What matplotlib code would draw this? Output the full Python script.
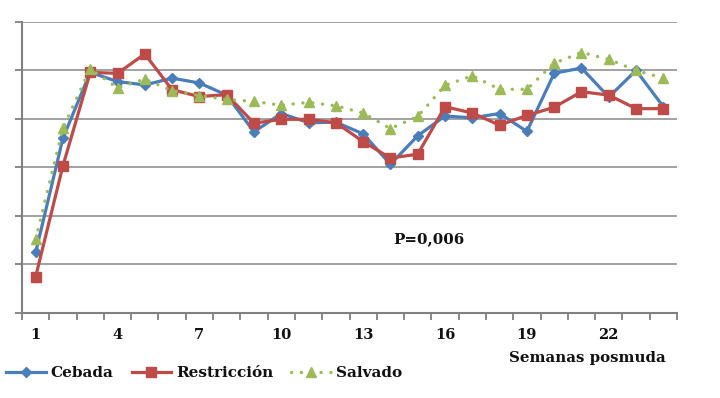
import matplotlib
matplotlib.use("Agg")
import matplotlib.pyplot as plt
from matplotlib.ticker import FixedLocator, NullFormatter

weeks = list(range(1, 25))
cebada = [1.24, 3.60, 4.96, 4.77, 4.70, 4.84, 4.74, 4.49, 3.73, 4.11, 3.92, 3.93,
          3.69, 3.06, 3.65, 4.06, 4.02, 4.11, 3.74, 4.94, 5.05, 4.45, 5.00, 4.25]
restriccion = [0.74, 3.03, 4.96, 4.94, 5.34, 4.60, 4.46, 4.50, 3.91, 3.99, 3.99, 3.92,
               3.53, 3.19, 3.27, 4.25, 4.12, 3.87, 4.07, 4.24, 4.56, 4.49, 4.21, 4.21]
salvado = [1.51, 3.81, 5.03, 4.64, 4.82, 4.58, 4.48, 4.40, 4.36, 4.28, 4.34, 4.27,
           4.12, 3.80, 4.05, 4.69, 4.89, 4.61, 4.61, 5.15, 5.37, 5.23, 5.00, 4.84]
labeled_weeks = [1, 4, 7, 10, 13, 16, 19, 22]
series_names = ["Cebada", "Restricción", "Salvado"]

plt.rcParams['font.family'] = ['DejaVu Serif']
plt.rcParams['font.weight'] = 'bold'

fig = plt.figure(figsize=(7.2, 3.98), dpi=100)
ax = fig.add_axes([22/720, (398-312.5)/398, (677-22)/720, (312.5-22)/398])

blue = '#4A7EBB'
red = '#BE4B48'
green = '#9BBB59'

ax.plot(weeks, cebada, color=blue, lw=2.3, marker='D', ms=5.5, mec=blue, mfc=blue,
        label=series_names[0], zorder=3)
ax.plot(weeks, restriccion, color=red, lw=2.3, marker='s', ms=7, mec=red, mfc=red,
        label=series_names[1], zorder=4)
ax.plot(weeks, salvado, color=green, lw=2.4, marker='^', ms=7, mec=green, mfc=green,
        linestyle=(0, (0.05, 2.9)), dash_capstyle='round',
        label=series_names[2], zorder=5)

ax.set_xlim(0.5, 24.5)
ax.set_ylim(0, 6)

ax.xaxis.set_major_locator(FixedLocator(labeled_weeks))
ax.xaxis.set_minor_locator(FixedLocator([w + 0.5 for w in range(0, 25)]))
ax.xaxis.set_minor_formatter(NullFormatter())
ax.tick_params(axis='x', which='major', length=0, pad=11, labelsize=10.5, labelcolor='#111111')
ax.tick_params(axis='x', which='minor', length=5, width=1.3, color='#808080', direction='out')

ax.set_yticks([0, 1, 2, 3, 4, 5, 6])
ax.set_yticklabels([])
ax.tick_params(axis='y', length=5, width=1.3, color='#808080', direction='out')
ax.yaxis.grid(True, color='#9a9a9a', lw=1.3)
ax.set_axisbelow(True)

for s in ['top', 'right']:
    ax.spines[s].set_visible(False)
for s in ['left', 'bottom']:
    ax.spines[s].set_color('#808080')
    ax.spines[s].set_linewidth(1.5)

fig.text(429/720, 1 - 239/398, 'P=0,006', ha='center', va='center',
         fontsize=10.8, color='#111111', fontweight='bold')

fig.text(587/720, 1 - 358/398, 'Semanas posmuda', ha='center', va='center',
         fontsize=10.8, color='#111111', fontweight='bold')

leg = fig.legend(loc='center left', bbox_to_anchor=(6/720, 1 - 373/398), ncol=3, frameon=False,
                 fontsize=11, handlelength=2.6, handletextpad=0.3, columnspacing=1.2,
                 borderaxespad=0, borderpad=0.0)
for t in leg.get_texts():
    t.set_color('#111111')

fig.savefig('out.png', dpi=100)
